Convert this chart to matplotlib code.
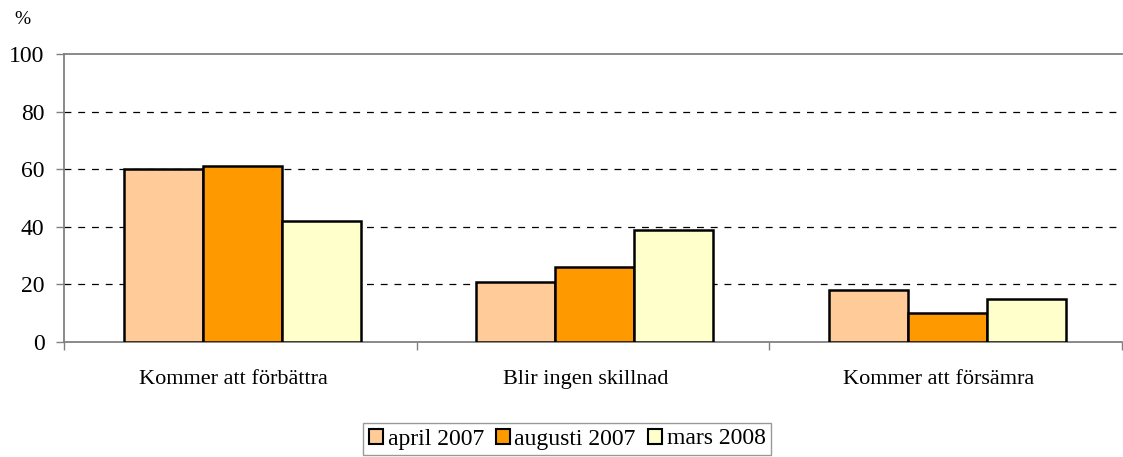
import matplotlib
matplotlib.use("Agg")
import matplotlib.pyplot as plt
import numpy as np

categories = ["Kommer att förbättra", "Blir ingen skillnad", "Kommer att försämra"]
series_names = ["april 2007", "augusti 2007", "mars 2008"]
april_2007 = [60, 21, 18]
augusti_2007 = [61, 26, 10]
mars_2008 = [42, 39, 15]
colors = ["#FFCC99", "#FF9900", "#FFFFCC"]
yticks = [0, 20, 40, 60, 80, 100]

plt.rcParams['font.family'] = ['Liberation Serif', 'DejaVu Serif']

fig = plt.figure(figsize=(11.23, 4.57), dpi=100)
ax = fig.add_axes([64/1123, 1-342/457, (1122-64)/1123, (342-54)/457])

x = np.arange(len(categories))
w = 0.224
for i, (vals, name, c) in enumerate(zip([april_2007, augusti_2007, mars_2008], series_names, colors)):
    ax.bar(x + 0.005 + (i-1)*w, vals, width=w, color=c, edgecolor='black', linewidth=1.8, label=name, zorder=3)

ax.set_xlim(-0.5, 2.5)
ax.set_ylim(0, 100)
ax.set_yticks(yticks)
ax.set_yticklabels([str(v) for v in yticks], fontsize=17)
for v in yticks[1:-1]:
    ax.axhline(v, color='black', linestyle=(0, (5.5, 5.5)), linewidth=0.9, zorder=1)

ax.set_xticks(x - 0.02)
ax.set_xticklabels(categories, fontsize=16)
ax.tick_params(axis='x', length=0, pad=20)
ax.set_xticks([-0.5, 0.5, 1.5, 2.5], minor=True)
ax.tick_params(axis='x', which='minor', length=6, color='#808080', width=1)
ax.tick_params(axis='y', length=6, color='#808080', width=1, pad=8)

for s in ['left', 'bottom', 'top']:
    ax.spines[s].set_color('#808080')
    ax.spines[s].set_linewidth(1.3)
ax.spines['right'].set_visible(False)

fig.text(14/1123, 1-20/457, "%", fontsize=14, va='center', ha='left')

leg = fig.legend(loc='center', bbox_to_anchor=(567/1123, 1-439/457), ncol=3, fontsize=17,
                 frameon=True, fancybox=False, edgecolor='#808080', handlelength=0.6,
                 handleheight=0.6, handletextpad=0.2, columnspacing=0.5, borderpad=0.25)
leg.get_frame().set_linewidth(1.0)
for h in leg.legend_handles:
    h.set_linewidth(1.5)

fig.savefig("out.png", dpi=100)
